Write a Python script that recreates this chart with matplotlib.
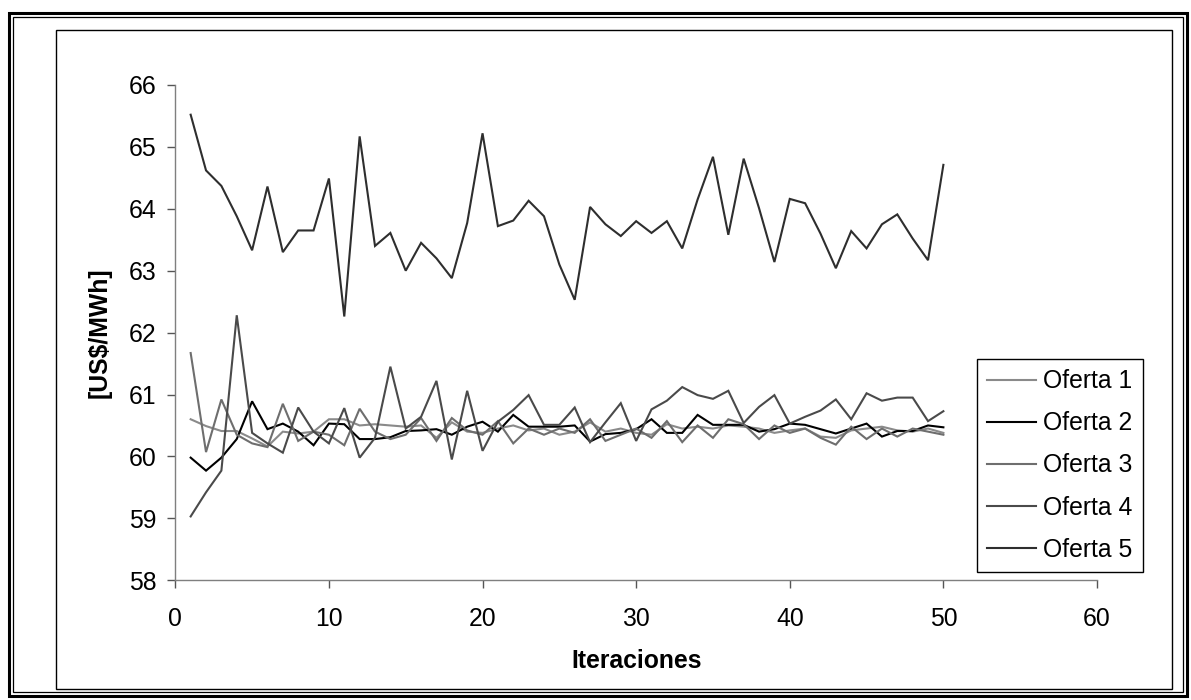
import matplotlib
matplotlib.use("Agg")
import matplotlib.pyplot as plt
from matplotlib.patches import Rectangle
from matplotlib.lines import Line2D

plt.rcParams['font.family'] = ['Liberation Sans', 'DejaVu Sans']

# Iterations and offer prices [US$/MWh]
iteraciones = list(range(1, 51))

oferta_1 = [60.60, 60.49, 60.41, 60.41, 60.29, 60.16, 60.40, 60.37, 60.40, 60.60,
            60.60, 60.50, 60.52, 60.50, 60.48, 60.50, 60.30, 60.55, 60.40, 60.38,
            60.45, 60.50, 60.42, 60.45, 60.35, 60.40, 60.55, 60.40, 60.45, 60.38,
            60.35, 60.52, 60.45, 60.48, 60.45, 60.50, 60.48, 60.45, 60.38, 60.42,
            60.45, 60.32, 60.30, 60.42, 60.45, 60.48, 60.42, 60.40, 60.45, 60.38]

oferta_2 = [59.98, 59.77, 59.98, 60.28, 60.89, 60.44, 60.53, 60.40, 60.18, 60.53,
            60.52, 60.28, 60.28, 60.31, 60.41, 60.42, 60.44, 60.35, 60.48, 60.56,
            60.40, 60.67, 60.48, 60.48, 60.48, 60.50, 60.24, 60.36, 60.38, 60.44,
            60.60, 60.38, 60.38, 60.67, 60.51, 60.51, 60.51, 60.40, 60.44, 60.53,
            60.51, 60.44, 60.37, 60.45, 60.53, 60.32, 60.41, 60.41, 60.50, 60.47]

oferta_3 = [61.67, 60.07, 60.92, 60.35, 60.21, 60.15, 60.85, 60.25, 60.40, 60.35,
            60.18, 60.77, 60.40, 60.28, 60.35, 60.62, 60.25, 60.62, 60.42, 60.35,
            60.57, 60.21, 60.45, 60.35, 60.45, 60.38, 60.60, 60.25, 60.35, 60.45,
            60.30, 60.57, 60.23, 60.50, 60.30, 60.60, 60.52, 60.28, 60.50, 60.38,
            60.45, 60.30, 60.19, 60.48, 60.28, 60.45, 60.32, 60.45, 60.40, 60.35]

oferta_4 = [59.03, 59.42, 59.77, 62.28, 60.38, 60.21, 60.06, 60.79, 60.40, 60.21,
            60.78, 59.98, 60.30, 61.45, 60.45, 60.64, 61.22, 59.95, 61.06, 60.09,
            60.56, 60.75, 60.99, 60.51, 60.51, 60.79, 60.23, 60.55, 60.86, 60.25,
            60.76, 60.90, 61.12, 60.99, 60.93, 61.06, 60.54, 60.80, 60.99, 60.53,
            60.64, 60.74, 60.92, 60.60, 61.02, 60.90, 60.95, 60.95, 60.57, 60.73]

oferta_5 = [65.52, 64.62, 64.37, 63.88, 63.33, 64.36, 63.30, 63.65, 63.65, 64.49,
            62.26, 65.17, 63.40, 63.61, 63.00, 63.45, 63.20, 62.88, 63.77, 65.22,
            63.72, 63.81, 64.13, 63.88, 63.10, 62.53, 64.03, 63.75, 63.56, 63.80,
            63.61, 63.80, 63.36, 64.15, 64.84, 63.58, 64.81, 64.01, 63.14, 64.16,
            64.09, 63.60, 63.04, 63.64, 63.36, 63.75, 63.91, 63.52, 63.17, 64.71]

series_names = ['Oferta 1', 'Oferta 2', 'Oferta 3', 'Oferta 4', 'Oferta 5']
series_values = [oferta_1, oferta_2, oferta_3, oferta_4, oferta_5]
series_colors = ['#8a8a8a', '#000000', '#6e6e6e', '#4a4a4a', '#2e2e2e']

x_ticks = [0, 10, 20, 30, 40, 50, 60]
y_ticks = [58, 59, 60, 61, 62, 63, 64, 65, 66]

W, H = 1191, 700
FS = 17.8
fig = plt.figure(figsize=(W / 100, H / 100), dpi=100)


def px_rect(x0, y0, x1, y1, lw, color='black'):
    """Rectangle given in pixel coordinates measured from the top-left."""
    fig.patches.append(Rectangle((x0 / W, 1 - y1 / H), (x1 - x0) / W, (y1 - y0) / H,
                                 transform=fig.transFigure, fill=False,
                                 edgecolor=color, linewidth=lw, zorder=0))


# Double page border and chart-area frame
px_rect(8.7, 13.3, 1186.5, 695.5, 2.2)
px_rect(12.5, 16.8, 1182.5, 691.5, 0.9)
px_rect(55.5, 29.5, 1171.5, 688.5, 1.0)

ax = fig.add_axes([175.3 / W, 1 - 580.2 / H, (1097 - 175.3) / W, (580.2 - 85) / H])

for name, vals, col in zip(series_names, series_values, series_colors):
    ax.plot(iteraciones, vals, color=col, linewidth=1.5, label=name,
            solid_joinstyle='miter')

ax.set_xlim(0, 60)
ax.set_ylim(58, 66)
ax.set_xticks(x_ticks)
ax.set_yticks(y_ticks)

for side in ('top', 'right'):
    ax.spines[side].set_visible(False)
for side in ('left', 'bottom'):
    ax.spines[side].set_color('#7f7f7f')
    ax.spines[side].set_linewidth(1.0)

ax.tick_params(axis='both', direction='out', length=5.5, width=1.0,
               color='#555555', labelsize=FS, labelcolor='black')
ax.tick_params(axis='x', pad=14)
ax.tick_params(axis='y', pad=8)

ax.set_xlabel('Iteraciones', fontsize=FS, fontweight='bold')
ax.xaxis.label.set_verticalalignment('center')
ax.xaxis.set_label_coords(0.5, (580.2 - 661) / (580.2 - 85))

ax.set_ylabel('[US$/MWh]', fontsize=FS, fontweight='bold')
ax.yaxis.label.set_verticalalignment('center')
ax.yaxis.set_label_coords((100 - 175.3) / (1097 - 175.3), 0.5)

handles = [Line2D([], [], color=c, linewidth=1.5) for c in series_colors]
leg = fig.legend(handles, series_names, loc='upper left',
                 bbox_to_anchor=(977 / W, 1 - 359 / H), borderaxespad=0,
                 fontsize=FS, frameon=True, fancybox=False, framealpha=1,
                 edgecolor='black', handlelength=1.95, handletextpad=0.3,
                 labelspacing=0.73, borderpad=0.42)
leg.get_frame().set_linewidth(1.0)

fig.savefig('out.png', dpi=100)
